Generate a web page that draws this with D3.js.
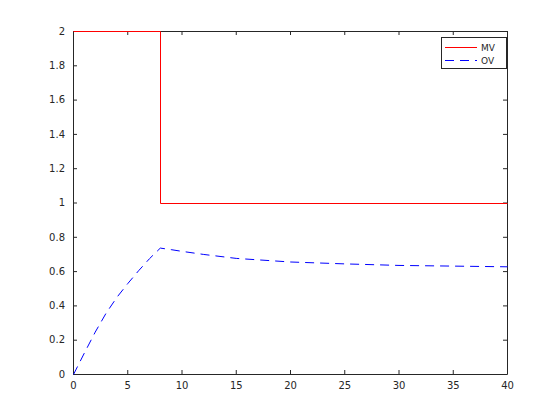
<!DOCTYPE html>
<html>
<head>
<meta charset="utf-8">
<script src="https://cdn.jsdelivr.net/npm/d3@7"></script>
<style>
  body { margin: 0; background: #fff; }
  svg text { font-family: "DejaVu Sans", sans-serif; }
</style>
</head>
<body>
<div id="chart"></div>
<script>
// MV step input
var mvTime = [0, 8, 8, 40];
var mvValue = [2, 2, 1, 1];

// OV response
var ovTime = [0, 1, 2, 3, 4, 5, 6, 7, 8, 9, 10, 12, 15, 20, 25, 30, 35, 40];
var ovValue = [0, 0.125, 0.247, 0.357, 0.45, 0.53, 0.605, 0.675, 0.737, 0.728, 0.718, 0.70, 0.677, 0.656, 0.645, 0.636, 0.632, 0.628];

var xTicks = [0, 5, 10, 15, 20, 25, 30, 35, 40];
var yTicks = [0, 0.2, 0.4, 0.6, 0.8, 1, 1.2, 1.4, 1.6, 1.8, 2];
var seriesNames = ["MV", "OV"];

(function () {
  var width = 560, height = 420;
  var plotLeft = 73, plotRight = 507, plotTop = 31, plotBottom = 374;
  var axisColor = "#262626";

  var svg = d3.select("#chart").append("svg")
    .attr("width", width)
    .attr("height", height);

  var x = d3.scaleLinear().domain([0, 40]).range([plotLeft, plotRight]);
  var y = d3.scaleLinear().domain([0, 2]).range([plotBottom, plotTop]);

  var fmt = function(d) { return String(+d.toFixed(1)); };

  // bottom + left axes, ticks inward
  svg.append("g")
    .attr("transform", "translate(0," + plotBottom + ")")
    .call(d3.axisBottom(x).tickValues(xTicks).tickSizeInner(-4).tickSizeOuter(0).tickPadding(8).tickFormat(fmt));
  svg.append("g")
    .attr("transform", "translate(" + plotLeft + ",0)")
    .call(d3.axisLeft(y).tickValues(yTicks).tickSizeInner(-4).tickSizeOuter(0).tickPadding(8).tickFormat(fmt));
  // top + right axes, no labels
  svg.append("g")
    .attr("transform", "translate(0," + plotTop + ")")
    .call(d3.axisTop(x).tickValues(xTicks).tickSizeInner(-4).tickSizeOuter(0).tickFormat(""));
  svg.append("g")
    .attr("transform", "translate(" + plotRight + ",0)")
    .call(d3.axisRight(y).tickValues(yTicks).tickSizeInner(-4).tickSizeOuter(0).tickFormat(""));

  svg.selectAll(".domain, .tick line").attr("stroke", axisColor);
  svg.selectAll(".tick text").attr("fill", axisColor).style("font-size", "10px");

  // step line snapped to whole pixels so it stays 1px sharp
  var stepLine = d3.line()
    .x(function(d) { return Math.round(x(d[0])) + 0.5; })
    .y(function(d) { return Math.round(y(d[1])) + 0.5; });

  var line = d3.line()
    .x(function(d) { return x(d[0]) + 0.5; })
    .y(function(d) { return y(d[1]) + 0.5; });

  svg.append("path")
    .datum(d3.zip(mvTime, mvValue))
    .attr("d", stepLine)
    .attr("fill", "none")
    .attr("stroke", "#ff0000")
    .attr("stroke-width", 1);

  svg.append("path")
    .datum(d3.zip(ovTime, ovValue))
    .attr("d", line)
    .attr("fill", "none")
    .attr("stroke", "#0000ff")
    .attr("stroke-width", 1)
    .attr("stroke-dasharray", "9,6");

  // legend
  var lg = svg.append("g").attr("transform", "translate(441,37)");
  lg.append("rect")
    .attr("x", 0.5).attr("y", 0.5)
    .attr("width", 65).attr("height", 31)
    .attr("fill", "#fff")
    .attr("stroke", axisColor);
  var styles = [{ c: "#ff0000", dash: null }, { c: "#0000ff", dash: "9,6" }];
  seriesNames.forEach(function(name, i) {
    var yy = 10.5 + i * 13;
    lg.append("line")
      .attr("x1", 4).attr("x2", 36)
      .attr("y1", yy).attr("y2", yy)
      .attr("stroke", styles[i].c)
      .attr("stroke-dasharray", styles[i].dash);
    lg.append("text")
      .attr("x", 40).attr("y", yy + 3)
      .attr("fill", axisColor)
      .style("font-size", "9px")
      .text(name);
  });
})();
</script>
</body>
</html>
